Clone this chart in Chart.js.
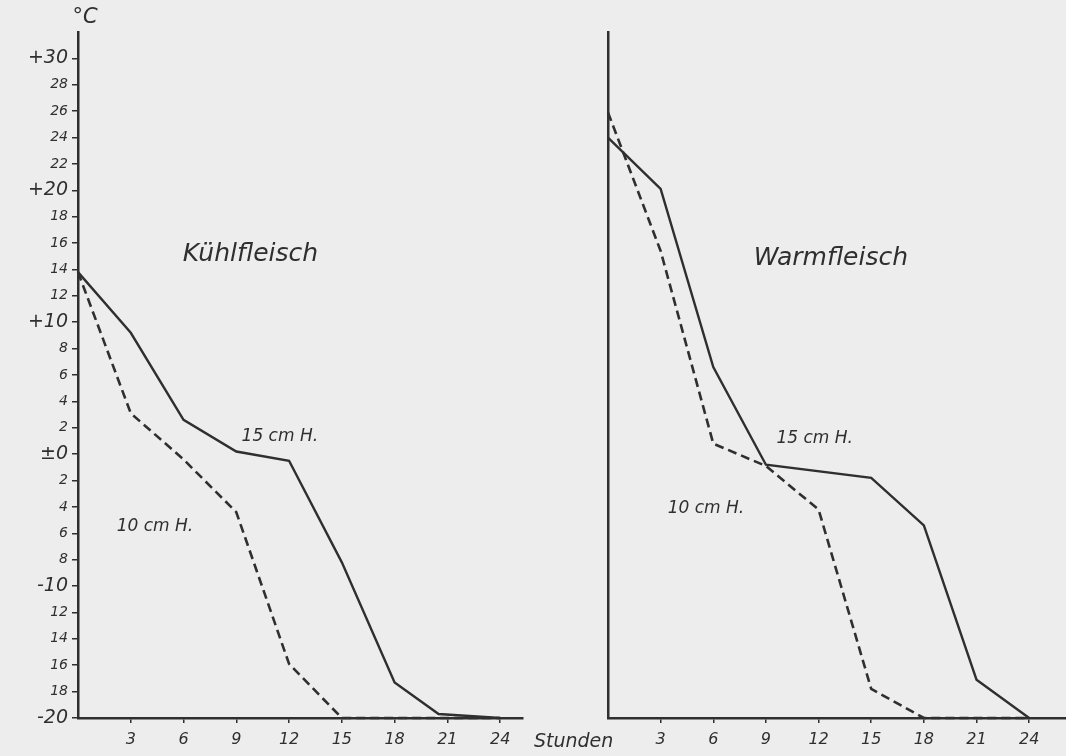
<!DOCTYPE html>
<html>
<head>
<meta charset="utf-8">
<script src="https://cdn.jsdelivr.net/npm/chart.js@4.4.0/dist/chart.umd.min.js"></script>
<style>
  html, body { margin: 0; padding: 0; background: #ededed; }
  #wrap { position: relative; width: 1066px; height: 756px; }
  #wrap canvas { position: absolute; left: 0; top: 0; }
</style>
</head>
<body>
<div id="wrap">
  <canvas id="kuehlChart" width="1066" height="756"></canvas>
  <canvas id="warmChart" width="1066" height="756"></canvas>
</div>
<script>
// Kühlfleisch (linkes Diagramm)
const kuehlHours15 = [0, 3, 6, 9, 12, 15, 18, 20.5, 24];
const kuehlTemp15 = [13.8, 9.2, 2.6, 0.2, -0.5, -8.2, -17.3, -19.7, -20];
const kuehlHours10 = [0, 3, 6, 9, 12, 15, 18, 21, 24];
const kuehlTemp10 = [13.8, 3.1, -0.4, -4.4, -15.9, -20, -20, -20, -20];

// Warmfleisch (rechtes Diagramm)
const warmHours15 = [0, 3, 6, 9, 15, 18, 21, 24];
const warmTemp15 = [24, 20.1, 6.6, -0.8, -1.8, -5.4, -17.1, -20];
const warmHours10 = [0, 3, 6, 9, 12, 15, 18, 21, 24];
const warmTemp10 = [25.9, 15.4, 0.8, -0.9, -4.2, -17.8, -20, -20, -20];

// Achsen
const xTickValues = [3, 6, 9, 12, 15, 18, 21, 24];
const yTickValues = [30, 28, 26, 24, 22, 20, 18, 16, 14, 12, 10, 8, 6, 4, 2, 0,
                     -2, -4, -6, -8, -10, -12, -14, -16, -18, -20];
const yTickLabels = ['+30', '28', '26', '24', '22', '+20', '18', '16', '14', '12', '+10', '8', '6', '4', '2', '±0',
                     '2', '4', '6', '8', '-10', '12', '14', '16', '18', '-20'];
const yBigTicks = [30, 20, 10, 0, -10, -20];

const INK = '#2f2f2f';
const FONT = "'DejaVu Sans', sans-serif";
const Y_MIN = -20, Y_MAX = 32;

function toPoints(hours, temps) {
    return hours.map(function (h, i) { return { x: h, y: temps[i] }; });
}

const notesPlugin = {
    id: 'notes',
    afterDraw: function (chart, args, opts) {
        const ctx = chart.ctx;
        const xs = chart.scales.x, ys = chart.scales.y;
        ctx.save();
        ctx.fillStyle = INK;
        ctx.textBaseline = 'middle';
        (opts.items || []).forEach(function (n) {
            ctx.font = 'italic ' + n.size + 'px ' + FONT;
            ctx.textAlign = n.align || 'left';
            ctx.fillText(n.text, xs.getPixelForValue(n.x), ys.getPixelForValue(n.y));
        });
        ctx.restore();
    }
};

function makeChart(id, sets, xMax, padding, showYLabels, notes) {
    const ctx = document.getElementById(id);
    return new Chart(ctx, {
        type: 'line',
        data: {
            datasets: sets.map(function (s) {
                return {
                    data: s.data,
                    borderColor: INK,
                    borderWidth: s.dashed ? 2.6 : 2.4,
                    borderDash: s.dashed ? [9, 5] : [],
                    pointRadius: 0,
                    tension: 0,
                    fill: false,
                    clip: 4
                };
            })
        },
        options: {
            responsive: false,
            animation: false,
            layout: { padding: padding },
            plugins: {
                legend: { display: false },
                tooltip: { enabled: false },
                notes: { items: notes }
            },
            scales: {
                x: {
                    type: 'linear',
                    min: 0,
                    max: xMax,
                    afterBuildTicks: function (axis) {
                        axis.ticks = xTickValues.map(function (v) { return { value: v }; });
                    },
                    afterFit: function (axis) { axis.height = 38; },
                    grid: { drawOnChartArea: false, drawTicks: true, tickLength: 5, color: INK, lineWidth: 1.5 },
                    border: { display: true, color: INK, width: 2.5 },
                    ticks: {
                        color: INK,
                        padding: 7,
                        maxRotation: 0,
                        font: { family: FONT, size: 16, style: 'italic' }
                    }
                },
                y: {
                    type: 'linear',
                    min: Y_MIN,
                    max: Y_MAX,
                    afterBuildTicks: function (axis) {
                        axis.ticks = (showYLabels ? yTickValues : []).map(function (v) { return { value: v }; });
                    },
                    afterFit: function (axis) { axis.width = showYLabels ? 78 : 0; },
                    grid: { drawOnChartArea: false, drawTicks: showYLabels, tickLength: 6, color: INK, lineWidth: 1.5 },
                    border: { display: true, color: INK, width: 2.5 },
                    ticks: {
                        display: showYLabels,
                        color: INK,
                        padding: 4,
                        callback: function (v) { return yTickLabels[yTickValues.indexOf(v)]; },
                        font: function (c) {
                            const big = c.tick && yBigTicks.indexOf(c.tick.value) >= 0;
                            return { family: FONT, size: big ? 19 : 14, style: 'italic' };
                        }
                    }
                }
            }
        },
        plugins: [notesPlugin]
    });
}

makeChart('kuehlChart', [
    { data: toPoints(kuehlHours15, kuehlTemp15), dashed: false },
    { data: toPoints(kuehlHours10, kuehlTemp10), dashed: true }
], 25.3, { left: 0, top: 32, right: 543, bottom: 0 }, true, [
    { text: '°C', x: 0.4, y: 33.1, size: 21, align: 'center' },
    { text: 'Kühlfleisch', x: 9.8, y: 15.1, size: 25, align: 'center' },
    { text: '15 cm H.', x: 9.3, y: 1.3, size: 17 },
    { text: '10 cm H.', x: 2.2, y: -5.5, size: 17 }
]);

makeChart('warmChart', [
    { data: toPoints(warmHours15, warmTemp15), dashed: false },
    { data: toPoints(warmHours10, warmTemp10), dashed: true }
], 26.1, { left: 608, top: 32, right: 0, bottom: 0 }, false, [
    { text: 'Warmfleisch', x: 12.7, y: 14.8, size: 25, align: 'center' },
    { text: '15 cm H.', x: 9.6, y: 1.2, size: 17 },
    { text: '10 cm H.', x: 3.4, y: -4.1, size: 17 },
    { text: 'Stunden', x: 0.3, y: -21.8, size: 19, align: 'right' }
]);
</script>
</body>
</html>
